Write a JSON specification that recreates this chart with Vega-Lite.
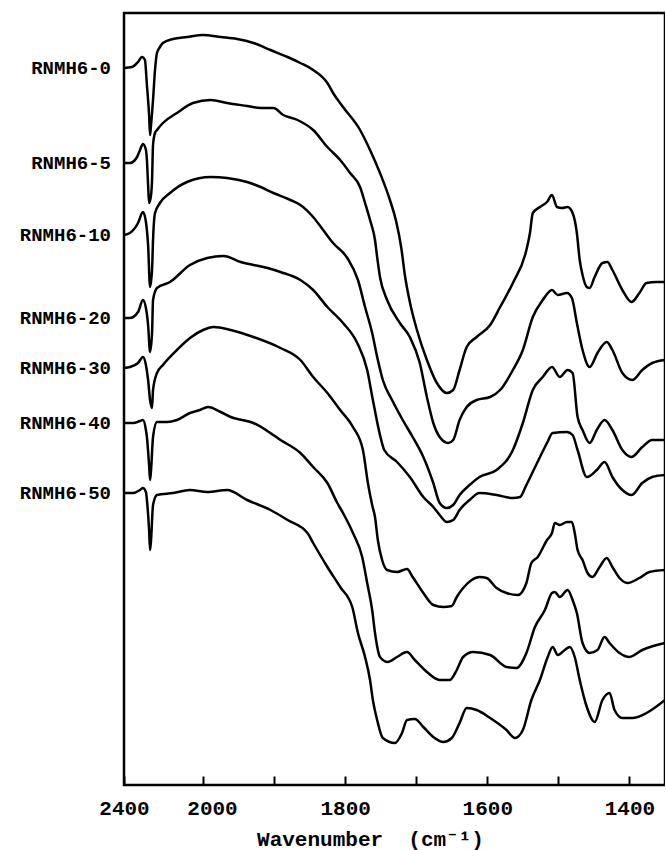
{
  "$schema": "https://vega.github.io/schema/vega-lite/v6.json",
  "autosize": {"type": "none"},
  "padding": {"left": 124, "top": 13, "right": 0, "bottom": 65},
  "width": 541,
  "height": 772,
  "config": {
    "view": {"stroke": "black", "strokeWidth": 2.5},
    "font": "Liberation Mono"
  },
  "data": {"values": [
    {"s":"RNMH6-0","w":2400,"v":717},{"s":"RNMH6-0","w":2360,"v":718},{"s":"RNMH6-0","w":2329,"v":723},{"s":"RNMH6-0","w":2309,"v":728},{"s":"RNMH6-0","w":2294,"v":725},{"s":"RNMH6-0","w":2284,"v":700},{"s":"RNMH6-0","w":2273,"v":670},{"s":"RNMH6-0","w":2268,"v":650},{"s":"RNMH6-0","w":2263,"v":660},{"s":"RNMH6-0","w":2253,"v":685},{"s":"RNMH6-0","w":2243,"v":715},{"s":"RNMH6-0","w":2233,"v":732},{"s":"RNMH6-0","w":2218,"v":738},{"s":"RNMH6-0","w":2203,"v":742},{"s":"RNMH6-0","w":2152,"v":746},{"s":"RNMH6-0","w":2081,"v":748},{"s":"RNMH6-0","w":2000,"v":750},{"s":"RNMH6-0","w":1975,"v":748},{"s":"RNMH6-0","w":1952,"v":746},{"s":"RNMH6-0","w":1929,"v":742},{"s":"RNMH6-0","w":1905,"v":735},{"s":"RNMH6-0","w":1881,"v":728},{"s":"RNMH6-0","w":1863,"v":722},{"s":"RNMH6-0","w":1845,"v":715},{"s":"RNMH6-0","w":1825,"v":702},{"s":"RNMH6-0","w":1817,"v":692},{"s":"RNMH6-0","w":1803,"v":678},{"s":"RNMH6-0","w":1779,"v":655},{"s":"RNMH6-0","w":1765,"v":635},{"s":"RNMH6-0","w":1751,"v":612},{"s":"RNMH6-0","w":1737,"v":585},{"s":"RNMH6-0","w":1728,"v":563},{"s":"RNMH6-0","w":1721,"v":537},{"s":"RNMH6-0","w":1716,"v":510},{"s":"RNMH6-0","w":1709,"v":483},{"s":"RNMH6-0","w":1699,"v":455},{"s":"RNMH6-0","w":1685,"v":425},{"s":"RNMH6-0","w":1671,"v":402},{"s":"RNMH6-0","w":1657,"v":392},{"s":"RNMH6-0","w":1648,"v":395},{"s":"RNMH6-0","w":1639,"v":415},{"s":"RNMH6-0","w":1629,"v":438},{"s":"RNMH6-0","w":1615,"v":448},{"s":"RNMH6-0","w":1596,"v":460},{"s":"RNMH6-0","w":1582,"v":478},{"s":"RNMH6-0","w":1564,"v":502},{"s":"RNMH6-0","w":1545,"v":535},{"s":"RNMH6-0","w":1540,"v":552},{"s":"RNMH6-0","w":1536,"v":572},{"s":"RNMH6-0","w":1526,"v":578},{"s":"RNMH6-0","w":1516,"v":583},{"s":"RNMH6-0","w":1509,"v":590},{"s":"RNMH6-0","w":1502,"v":578},{"s":"RNMH6-0","w":1495,"v":577},{"s":"RNMH6-0","w":1487,"v":578},{"s":"RNMH6-0","w":1480,"v":572},{"s":"RNMH6-0","w":1474,"v":552},{"s":"RNMH6-0","w":1470,"v":525},{"s":"RNMH6-0","w":1466,"v":510},{"s":"RNMH6-0","w":1460,"v":498},{"s":"RNMH6-0","w":1456,"v":497},{"s":"RNMH6-0","w":1449,"v":508},{"s":"RNMH6-0","w":1438,"v":522},{"s":"RNMH6-0","w":1431,"v":523},{"s":"RNMH6-0","w":1424,"v":515},{"s":"RNMH6-0","w":1410,"v":495},{"s":"RNMH6-0","w":1397,"v":483},{"s":"RNMH6-0","w":1386,"v":492},{"s":"RNMH6-0","w":1376,"v":502},{"s":"RNMH6-0","w":1362,"v":503},{"s":"RNMH6-0","w":1350,"v":503},

    {"s":"RNMH6-5","w":2400,"v":622},{"s":"RNMH6-5","w":2370,"v":622},{"s":"RNMH6-5","w":2334,"v":628},{"s":"RNMH6-5","w":2319,"v":635},{"s":"RNMH6-5","w":2304,"v":641},{"s":"RNMH6-5","w":2289,"v":635},{"s":"RNMH6-5","w":2284,"v":625},{"s":"RNMH6-5","w":2278,"v":600},{"s":"RNMH6-5","w":2273,"v":582},{"s":"RNMH6-5","w":2263,"v":590},{"s":"RNMH6-5","w":2258,"v":605},{"s":"RNMH6-5","w":2253,"v":640},{"s":"RNMH6-5","w":2243,"v":652},{"s":"RNMH6-5","w":2233,"v":655},{"s":"RNMH6-5","w":2203,"v":662},{"s":"RNMH6-5","w":2132,"v":672},{"s":"RNMH6-5","w":2051,"v":682},{"s":"RNMH6-5","w":1989,"v":685},{"s":"RNMH6-5","w":1966,"v":682},{"s":"RNMH6-5","w":1938,"v":679},{"s":"RNMH6-5","w":1919,"v":677},{"s":"RNMH6-5","w":1901,"v":677},{"s":"RNMH6-5","w":1887,"v":670},{"s":"RNMH6-5","w":1867,"v":665},{"s":"RNMH6-5","w":1845,"v":655},{"s":"RNMH6-5","w":1825,"v":638},{"s":"RNMH6-5","w":1807,"v":625},{"s":"RNMH6-5","w":1793,"v":612},{"s":"RNMH6-5","w":1779,"v":598},{"s":"RNMH6-5","w":1772,"v":582},{"s":"RNMH6-5","w":1765,"v":565},{"s":"RNMH6-5","w":1758,"v":545},{"s":"RNMH6-5","w":1755,"v":528},{"s":"RNMH6-5","w":1751,"v":508},{"s":"RNMH6-5","w":1741,"v":485},{"s":"RNMH6-5","w":1723,"v":462},{"s":"RNMH6-5","w":1709,"v":448},{"s":"RNMH6-5","w":1695,"v":422},{"s":"RNMH6-5","w":1685,"v":388},{"s":"RNMH6-5","w":1676,"v":362},{"s":"RNMH6-5","w":1667,"v":348},{"s":"RNMH6-5","w":1655,"v":342},{"s":"RNMH6-5","w":1648,"v":345},{"s":"RNMH6-5","w":1639,"v":365},{"s":"RNMH6-5","w":1629,"v":378},{"s":"RNMH6-5","w":1615,"v":385},{"s":"RNMH6-5","w":1596,"v":388},{"s":"RNMH6-5","w":1582,"v":395},{"s":"RNMH6-5","w":1564,"v":415},{"s":"RNMH6-5","w":1550,"v":435},{"s":"RNMH6-5","w":1536,"v":468},{"s":"RNMH6-5","w":1522,"v":485},{"s":"RNMH6-5","w":1509,"v":495},{"s":"RNMH6-5","w":1501,"v":490},{"s":"RNMH6-5","w":1488,"v":492},{"s":"RNMH6-5","w":1481,"v":487},{"s":"RNMH6-5","w":1474,"v":462},{"s":"RNMH6-5","w":1466,"v":435},{"s":"RNMH6-5","w":1456,"v":418},{"s":"RNMH6-5","w":1445,"v":432},{"s":"RNMH6-5","w":1432,"v":443},{"s":"RNMH6-5","w":1424,"v":435},{"s":"RNMH6-5","w":1410,"v":412},{"s":"RNMH6-5","w":1396,"v":405},{"s":"RNMH6-5","w":1382,"v":415},{"s":"RNMH6-5","w":1368,"v":422},{"s":"RNMH6-5","w":1350,"v":425},

    {"s":"RNMH6-10","w":2400,"v":550},{"s":"RNMH6-10","w":2370,"v":552},{"s":"RNMH6-10","w":2329,"v":562},{"s":"RNMH6-10","w":2304,"v":573},{"s":"RNMH6-10","w":2289,"v":563},{"s":"RNMH6-10","w":2278,"v":540},{"s":"RNMH6-10","w":2268,"v":498},{"s":"RNMH6-10","w":2258,"v":515},{"s":"RNMH6-10","w":2253,"v":545},{"s":"RNMH6-10","w":2243,"v":572},{"s":"RNMH6-10","w":2218,"v":582},{"s":"RNMH6-10","w":2167,"v":592},{"s":"RNMH6-10","w":2081,"v":603},{"s":"RNMH6-10","w":1989,"v":608},{"s":"RNMH6-10","w":1966,"v":607},{"s":"RNMH6-10","w":1938,"v":603},{"s":"RNMH6-10","w":1919,"v":598},{"s":"RNMH6-10","w":1901,"v":592},{"s":"RNMH6-10","w":1877,"v":585},{"s":"RNMH6-10","w":1863,"v":580},{"s":"RNMH6-10","w":1845,"v":568},{"s":"RNMH6-10","w":1831,"v":555},{"s":"RNMH6-10","w":1817,"v":542},{"s":"RNMH6-10","w":1797,"v":527},{"s":"RNMH6-10","w":1782,"v":505},{"s":"RNMH6-10","w":1772,"v":478},{"s":"RNMH6-10","w":1762,"v":452},{"s":"RNMH6-10","w":1754,"v":425},{"s":"RNMH6-10","w":1747,"v":405},{"s":"RNMH6-10","w":1734,"v":385},{"s":"RNMH6-10","w":1719,"v":365},{"s":"RNMH6-10","w":1705,"v":348},{"s":"RNMH6-10","w":1690,"v":328},{"s":"RNMH6-10","w":1676,"v":302},{"s":"RNMH6-10","w":1667,"v":282},{"s":"RNMH6-10","w":1657,"v":277},{"s":"RNMH6-10","w":1648,"v":280},{"s":"RNMH6-10","w":1639,"v":290},{"s":"RNMH6-10","w":1625,"v":300},{"s":"RNMH6-10","w":1611,"v":308},{"s":"RNMH6-10","w":1587,"v":315},{"s":"RNMH6-10","w":1564,"v":335},{"s":"RNMH6-10","w":1550,"v":362},{"s":"RNMH6-10","w":1536,"v":395},{"s":"RNMH6-10","w":1522,"v":408},{"s":"RNMH6-10","w":1509,"v":418},{"s":"RNMH6-10","w":1498,"v":408},{"s":"RNMH6-10","w":1487,"v":415},{"s":"RNMH6-10","w":1480,"v":412},{"s":"RNMH6-10","w":1473,"v":368},{"s":"RNMH6-10","w":1466,"v":355},{"s":"RNMH6-10","w":1456,"v":342},{"s":"RNMH6-10","w":1446,"v":355},{"s":"RNMH6-10","w":1435,"v":365},{"s":"RNMH6-10","w":1424,"v":355},{"s":"RNMH6-10","w":1410,"v":335},{"s":"RNMH6-10","w":1397,"v":328},{"s":"RNMH6-10","w":1382,"v":338},{"s":"RNMH6-10","w":1368,"v":345},{"s":"RNMH6-10","w":1350,"v":345},

    {"s":"RNMH6-20","w":2400,"v":467},{"s":"RNMH6-20","w":2370,"v":467},{"s":"RNMH6-20","w":2329,"v":473},{"s":"RNMH6-20","w":2304,"v":485},{"s":"RNMH6-20","w":2289,"v":477},{"s":"RNMH6-20","w":2278,"v":460},{"s":"RNMH6-20","w":2268,"v":433},{"s":"RNMH6-20","w":2258,"v":452},{"s":"RNMH6-20","w":2253,"v":485},{"s":"RNMH6-20","w":2233,"v":497},{"s":"RNMH6-20","w":2167,"v":503},{"s":"RNMH6-20","w":2066,"v":520},{"s":"RNMH6-20","w":1994,"v":527},{"s":"RNMH6-20","w":1971,"v":529},{"s":"RNMH6-20","w":1947,"v":523},{"s":"RNMH6-20","w":1909,"v":517},{"s":"RNMH6-20","w":1891,"v":513},{"s":"RNMH6-20","w":1863,"v":505},{"s":"RNMH6-20","w":1845,"v":495},{"s":"RNMH6-20","w":1825,"v":478},{"s":"RNMH6-20","w":1803,"v":462},{"s":"RNMH6-20","w":1783,"v":442},{"s":"RNMH6-20","w":1769,"v":415},{"s":"RNMH6-20","w":1761,"v":385},{"s":"RNMH6-20","w":1751,"v":350},{"s":"RNMH6-20","w":1745,"v":335},{"s":"RNMH6-20","w":1727,"v":323},{"s":"RNMH6-20","w":1709,"v":308},{"s":"RNMH6-20","w":1690,"v":288},{"s":"RNMH6-20","w":1676,"v":278},{"s":"RNMH6-20","w":1667,"v":270},{"s":"RNMH6-20","w":1657,"v":263},{"s":"RNMH6-20","w":1648,"v":265},{"s":"RNMH6-20","w":1639,"v":275},{"s":"RNMH6-20","w":1625,"v":285},{"s":"RNMH6-20","w":1611,"v":292},{"s":"RNMH6-20","w":1587,"v":290},{"s":"RNMH6-20","w":1564,"v":287},{"s":"RNMH6-20","w":1554,"v":288},{"s":"RNMH6-20","w":1545,"v":300},{"s":"RNMH6-20","w":1530,"v":322},{"s":"RNMH6-20","w":1516,"v":342},{"s":"RNMH6-20","w":1508,"v":352},{"s":"RNMH6-20","w":1488,"v":353},{"s":"RNMH6-20","w":1480,"v":350},{"s":"RNMH6-20","w":1473,"v":335},{"s":"RNMH6-20","w":1460,"v":308},{"s":"RNMH6-20","w":1446,"v":315},{"s":"RNMH6-20","w":1435,"v":323},{"s":"RNMH6-20","w":1424,"v":308},{"s":"RNMH6-20","w":1410,"v":295},{"s":"RNMH6-20","w":1397,"v":290},{"s":"RNMH6-20","w":1382,"v":302},{"s":"RNMH6-20","w":1368,"v":308},{"s":"RNMH6-20","w":1350,"v":310},

    {"s":"RNMH6-30","w":2400,"v":417},{"s":"RNMH6-30","w":2370,"v":418},{"s":"RNMH6-30","w":2329,"v":422},{"s":"RNMH6-30","w":2304,"v":428},{"s":"RNMH6-30","w":2289,"v":420},{"s":"RNMH6-30","w":2278,"v":405},{"s":"RNMH6-30","w":2268,"v":385},{"s":"RNMH6-30","w":2258,"v":377},{"s":"RNMH6-30","w":2253,"v":395},{"s":"RNMH6-30","w":2233,"v":412},{"s":"RNMH6-30","w":2203,"v":420},{"s":"RNMH6-30","w":2132,"v":435},{"s":"RNMH6-30","w":2066,"v":447},{"s":"RNMH6-30","w":2000,"v":455},{"s":"RNMH6-30","w":1985,"v":458},{"s":"RNMH6-30","w":1961,"v":455},{"s":"RNMH6-30","w":1929,"v":448},{"s":"RNMH6-30","w":1891,"v":437},{"s":"RNMH6-30","w":1863,"v":425},{"s":"RNMH6-30","w":1845,"v":408},{"s":"RNMH6-30","w":1825,"v":392},{"s":"RNMH6-30","w":1807,"v":375},{"s":"RNMH6-30","w":1789,"v":358},{"s":"RNMH6-30","w":1775,"v":335},{"s":"RNMH6-30","w":1768,"v":302},{"s":"RNMH6-30","w":1762,"v":280},{"s":"RNMH6-30","w":1758,"v":268},{"s":"RNMH6-30","w":1754,"v":245},{"s":"RNMH6-30","w":1748,"v":225},{"s":"RNMH6-30","w":1741,"v":215},{"s":"RNMH6-30","w":1727,"v":213},{"s":"RNMH6-30","w":1713,"v":216},{"s":"RNMH6-30","w":1705,"v":208},{"s":"RNMH6-30","w":1690,"v":192},{"s":"RNMH6-30","w":1676,"v":180},{"s":"RNMH6-30","w":1662,"v":178},{"s":"RNMH6-30","w":1650,"v":179},{"s":"RNMH6-30","w":1643,"v":188},{"s":"RNMH6-30","w":1634,"v":197},{"s":"RNMH6-30","w":1622,"v":205},{"s":"RNMH6-30","w":1611,"v":208},{"s":"RNMH6-30","w":1601,"v":207},{"s":"RNMH6-30","w":1587,"v":197},{"s":"RNMH6-30","w":1573,"v":192},{"s":"RNMH6-30","w":1557,"v":190},{"s":"RNMH6-30","w":1545,"v":202},{"s":"RNMH6-30","w":1538,"v":222},{"s":"RNMH6-30","w":1529,"v":228},{"s":"RNMH6-30","w":1516,"v":245},{"s":"RNMH6-30","w":1509,"v":252},{"s":"RNMH6-30","w":1505,"v":262},{"s":"RNMH6-30","w":1498,"v":260},{"s":"RNMH6-30","w":1488,"v":263},{"s":"RNMH6-30","w":1481,"v":263},{"s":"RNMH6-30","w":1477,"v":252},{"s":"RNMH6-30","w":1473,"v":235},{"s":"RNMH6-30","w":1466,"v":225},{"s":"RNMH6-30","w":1459,"v":212},{"s":"RNMH6-30","w":1452,"v":208},{"s":"RNMH6-30","w":1442,"v":218},{"s":"RNMH6-30","w":1432,"v":227},{"s":"RNMH6-30","w":1424,"v":218},{"s":"RNMH6-30","w":1414,"v":207},{"s":"RNMH6-30","w":1403,"v":202},{"s":"RNMH6-30","w":1386,"v":207},{"s":"RNMH6-30","w":1372,"v":213},{"s":"RNMH6-30","w":1350,"v":215},

    {"s":"RNMH6-40","w":2400,"v":362},{"s":"RNMH6-40","w":2354,"v":362},{"s":"RNMH6-40","w":2319,"v":364},{"s":"RNMH6-40","w":2304,"v":365},{"s":"RNMH6-40","w":2289,"v":355},{"s":"RNMH6-40","w":2284,"v":348},{"s":"RNMH6-40","w":2273,"v":320},{"s":"RNMH6-40","w":2268,"v":305},{"s":"RNMH6-40","w":2263,"v":315},{"s":"RNMH6-40","w":2253,"v":348},{"s":"RNMH6-40","w":2233,"v":363},{"s":"RNMH6-40","w":2182,"v":363},{"s":"RNMH6-40","w":2132,"v":365},{"s":"RNMH6-40","w":2066,"v":372},{"s":"RNMH6-40","w":2015,"v":375},{"s":"RNMH6-40","w":1993,"v":378},{"s":"RNMH6-40","w":1975,"v":373},{"s":"RNMH6-40","w":1961,"v":368},{"s":"RNMH6-40","w":1929,"v":362},{"s":"RNMH6-40","w":1891,"v":345},{"s":"RNMH6-40","w":1863,"v":332},{"s":"RNMH6-40","w":1845,"v":318},{"s":"RNMH6-40","w":1825,"v":302},{"s":"RNMH6-40","w":1811,"v":282},{"s":"RNMH6-40","w":1803,"v":272},{"s":"RNMH6-40","w":1789,"v":252},{"s":"RNMH6-40","w":1776,"v":228},{"s":"RNMH6-40","w":1769,"v":202},{"s":"RNMH6-40","w":1762,"v":175},{"s":"RNMH6-40","w":1758,"v":152},{"s":"RNMH6-40","w":1751,"v":128},{"s":"RNMH6-40","w":1740,"v":123},{"s":"RNMH6-40","w":1727,"v":128},{"s":"RNMH6-40","w":1713,"v":133},{"s":"RNMH6-40","w":1702,"v":125},{"s":"RNMH6-40","w":1685,"v":113},{"s":"RNMH6-40","w":1667,"v":105},{"s":"RNMH6-40","w":1653,"v":105},{"s":"RNMH6-40","w":1643,"v":115},{"s":"RNMH6-40","w":1634,"v":128},{"s":"RNMH6-40","w":1620,"v":133},{"s":"RNMH6-40","w":1596,"v":130},{"s":"RNMH6-40","w":1573,"v":118},{"s":"RNMH6-40","w":1559,"v":117},{"s":"RNMH6-40","w":1545,"v":132},{"s":"RNMH6-40","w":1533,"v":158},{"s":"RNMH6-40","w":1519,"v":175},{"s":"RNMH6-40","w":1509,"v":192},{"s":"RNMH6-40","w":1505,"v":193},{"s":"RNMH6-40","w":1498,"v":188},{"s":"RNMH6-40","w":1487,"v":195},{"s":"RNMH6-40","w":1480,"v":185},{"s":"RNMH6-40","w":1474,"v":172},{"s":"RNMH6-40","w":1466,"v":142},{"s":"RNMH6-40","w":1456,"v":132},{"s":"RNMH6-40","w":1445,"v":135},{"s":"RNMH6-40","w":1435,"v":148},{"s":"RNMH6-40","w":1428,"v":142},{"s":"RNMH6-40","w":1414,"v":132},{"s":"RNMH6-40","w":1400,"v":128},{"s":"RNMH6-40","w":1382,"v":135},{"s":"RNMH6-40","w":1350,"v":142},

    {"s":"RNMH6-50","w":2400,"v":292},{"s":"RNMH6-50","w":2354,"v":292},{"s":"RNMH6-50","w":2319,"v":295},{"s":"RNMH6-50","w":2304,"v":297},{"s":"RNMH6-50","w":2289,"v":293},{"s":"RNMH6-50","w":2284,"v":285},{"s":"RNMH6-50","w":2273,"v":255},{"s":"RNMH6-50","w":2268,"v":235},{"s":"RNMH6-50","w":2263,"v":245},{"s":"RNMH6-50","w":2253,"v":280},{"s":"RNMH6-50","w":2233,"v":290},{"s":"RNMH6-50","w":2152,"v":292},{"s":"RNMH6-50","w":2066,"v":295},{"s":"RNMH6-50","w":1994,"v":293},{"s":"RNMH6-50","w":1966,"v":295},{"s":"RNMH6-50","w":1938,"v":285},{"s":"RNMH6-50","w":1905,"v":275},{"s":"RNMH6-50","w":1881,"v":265},{"s":"RNMH6-50","w":1853,"v":252},{"s":"RNMH6-50","w":1845,"v":242},{"s":"RNMH6-50","w":1825,"v":218},{"s":"RNMH6-50","w":1807,"v":198},{"s":"RNMH6-50","w":1790,"v":178},{"s":"RNMH6-50","w":1782,"v":152},{"s":"RNMH6-50","w":1772,"v":128},{"s":"RNMH6-50","w":1765,"v":105},{"s":"RNMH6-50","w":1761,"v":85},{"s":"RNMH6-50","w":1755,"v":65},{"s":"RNMH6-50","w":1747,"v":47},{"s":"RNMH6-50","w":1730,"v":42},{"s":"RNMH6-50","w":1720,"v":52},{"s":"RNMH6-50","w":1713,"v":65},{"s":"RNMH6-50","w":1702,"v":66},{"s":"RNMH6-50","w":1690,"v":58},{"s":"RNMH6-50","w":1676,"v":48},{"s":"RNMH6-50","w":1662,"v":43},{"s":"RNMH6-50","w":1650,"v":47},{"s":"RNMH6-50","w":1639,"v":62},{"s":"RNMH6-50","w":1629,"v":77},{"s":"RNMH6-50","w":1615,"v":75},{"s":"RNMH6-50","w":1596,"v":67},{"s":"RNMH6-50","w":1573,"v":55},{"s":"RNMH6-50","w":1561,"v":47},{"s":"RNMH6-50","w":1550,"v":55},{"s":"RNMH6-50","w":1538,"v":85},{"s":"RNMH6-50","w":1526,"v":105},{"s":"RNMH6-50","w":1515,"v":128},{"s":"RNMH6-50","w":1508,"v":138},{"s":"RNMH6-50","w":1501,"v":130},{"s":"RNMH6-50","w":1491,"v":135},{"s":"RNMH6-50","w":1484,"v":138},{"s":"RNMH6-50","w":1477,"v":128},{"s":"RNMH6-50","w":1470,"v":105},{"s":"RNMH6-50","w":1460,"v":78},{"s":"RNMH6-50","w":1449,"v":63},{"s":"RNMH6-50","w":1438,"v":85},{"s":"RNMH6-50","w":1428,"v":92},{"s":"RNMH6-50","w":1421,"v":75},{"s":"RNMH6-50","w":1410,"v":67},{"s":"RNMH6-50","w":1396,"v":67},{"s":"RNMH6-50","w":1376,"v":72},{"s":"RNMH6-50","w":1350,"v":85}
  ]},
  "encoding": {
    "x": {
      "field": "w", "type": "quantitative",
      "scale": {"domain": [2400, 2000, 1350], "range": [0, 79, 541], "nice": false, "zero": false},
      "axis": {
        "values": [2400, 2000, 1900, 1800, 1700, 1600, 1500, 1400],
        "labelExpr": "datum.value % 200 == 0 ? '' + datum.value : ''",
        "grid": false,
        "offset": -9,
        "domain": false,
        "tickColor": "black", "tickWidth": 2, "tickSize": 9,
        "labelFont": "Liberation Mono", "labelFontWeight": "bold", "labelFontSize": 21, "labelColor": "black",
        "labelPadding": 12, "labelFlush": false,
        "labelOffset": {"condition": {"test": "datum.value == 2000", "value": 9}, "value": 0},
        "title": "Wavenumber \u00a0(cm\u207b\u00b9)",
        "titleFont": "Liberation Mono, DejaVu Sans Mono", "titleFontWeight": "bold", "titleFontSize": 21, "titleColor": "black",
        "titleX": 246, "titleY": 69, "titleBaseline": "alphabetic", "titleAnchor": "middle", "titleAlign": "center"
      }
    },
    "y": {
      "field": "v", "type": "quantitative",
      "scale": {"domain": [0, 772], "nice": false, "zero": false},
      "axis": null
    }
  },
  "layer": [
    {
      "mark": {"type": "line", "color": "black", "strokeWidth": 2.5, "interpolate": "monotone", "clip": false},
      "encoding": {
        "detail": {"field": "s"},
        "order": {"field": "w", "sort": "descending"}
      }
    },
    {
      "transform": [{"filter": "datum.w == 2400"}],
      "mark": {"type": "text", "align": "right", "baseline": "middle", "dx": -13, "font": "Liberation Mono", "fontWeight": "bold", "fontSize": 19, "color": "black"},
      "encoding": {"text": {"field": "s"}}
    }
  ]
}
